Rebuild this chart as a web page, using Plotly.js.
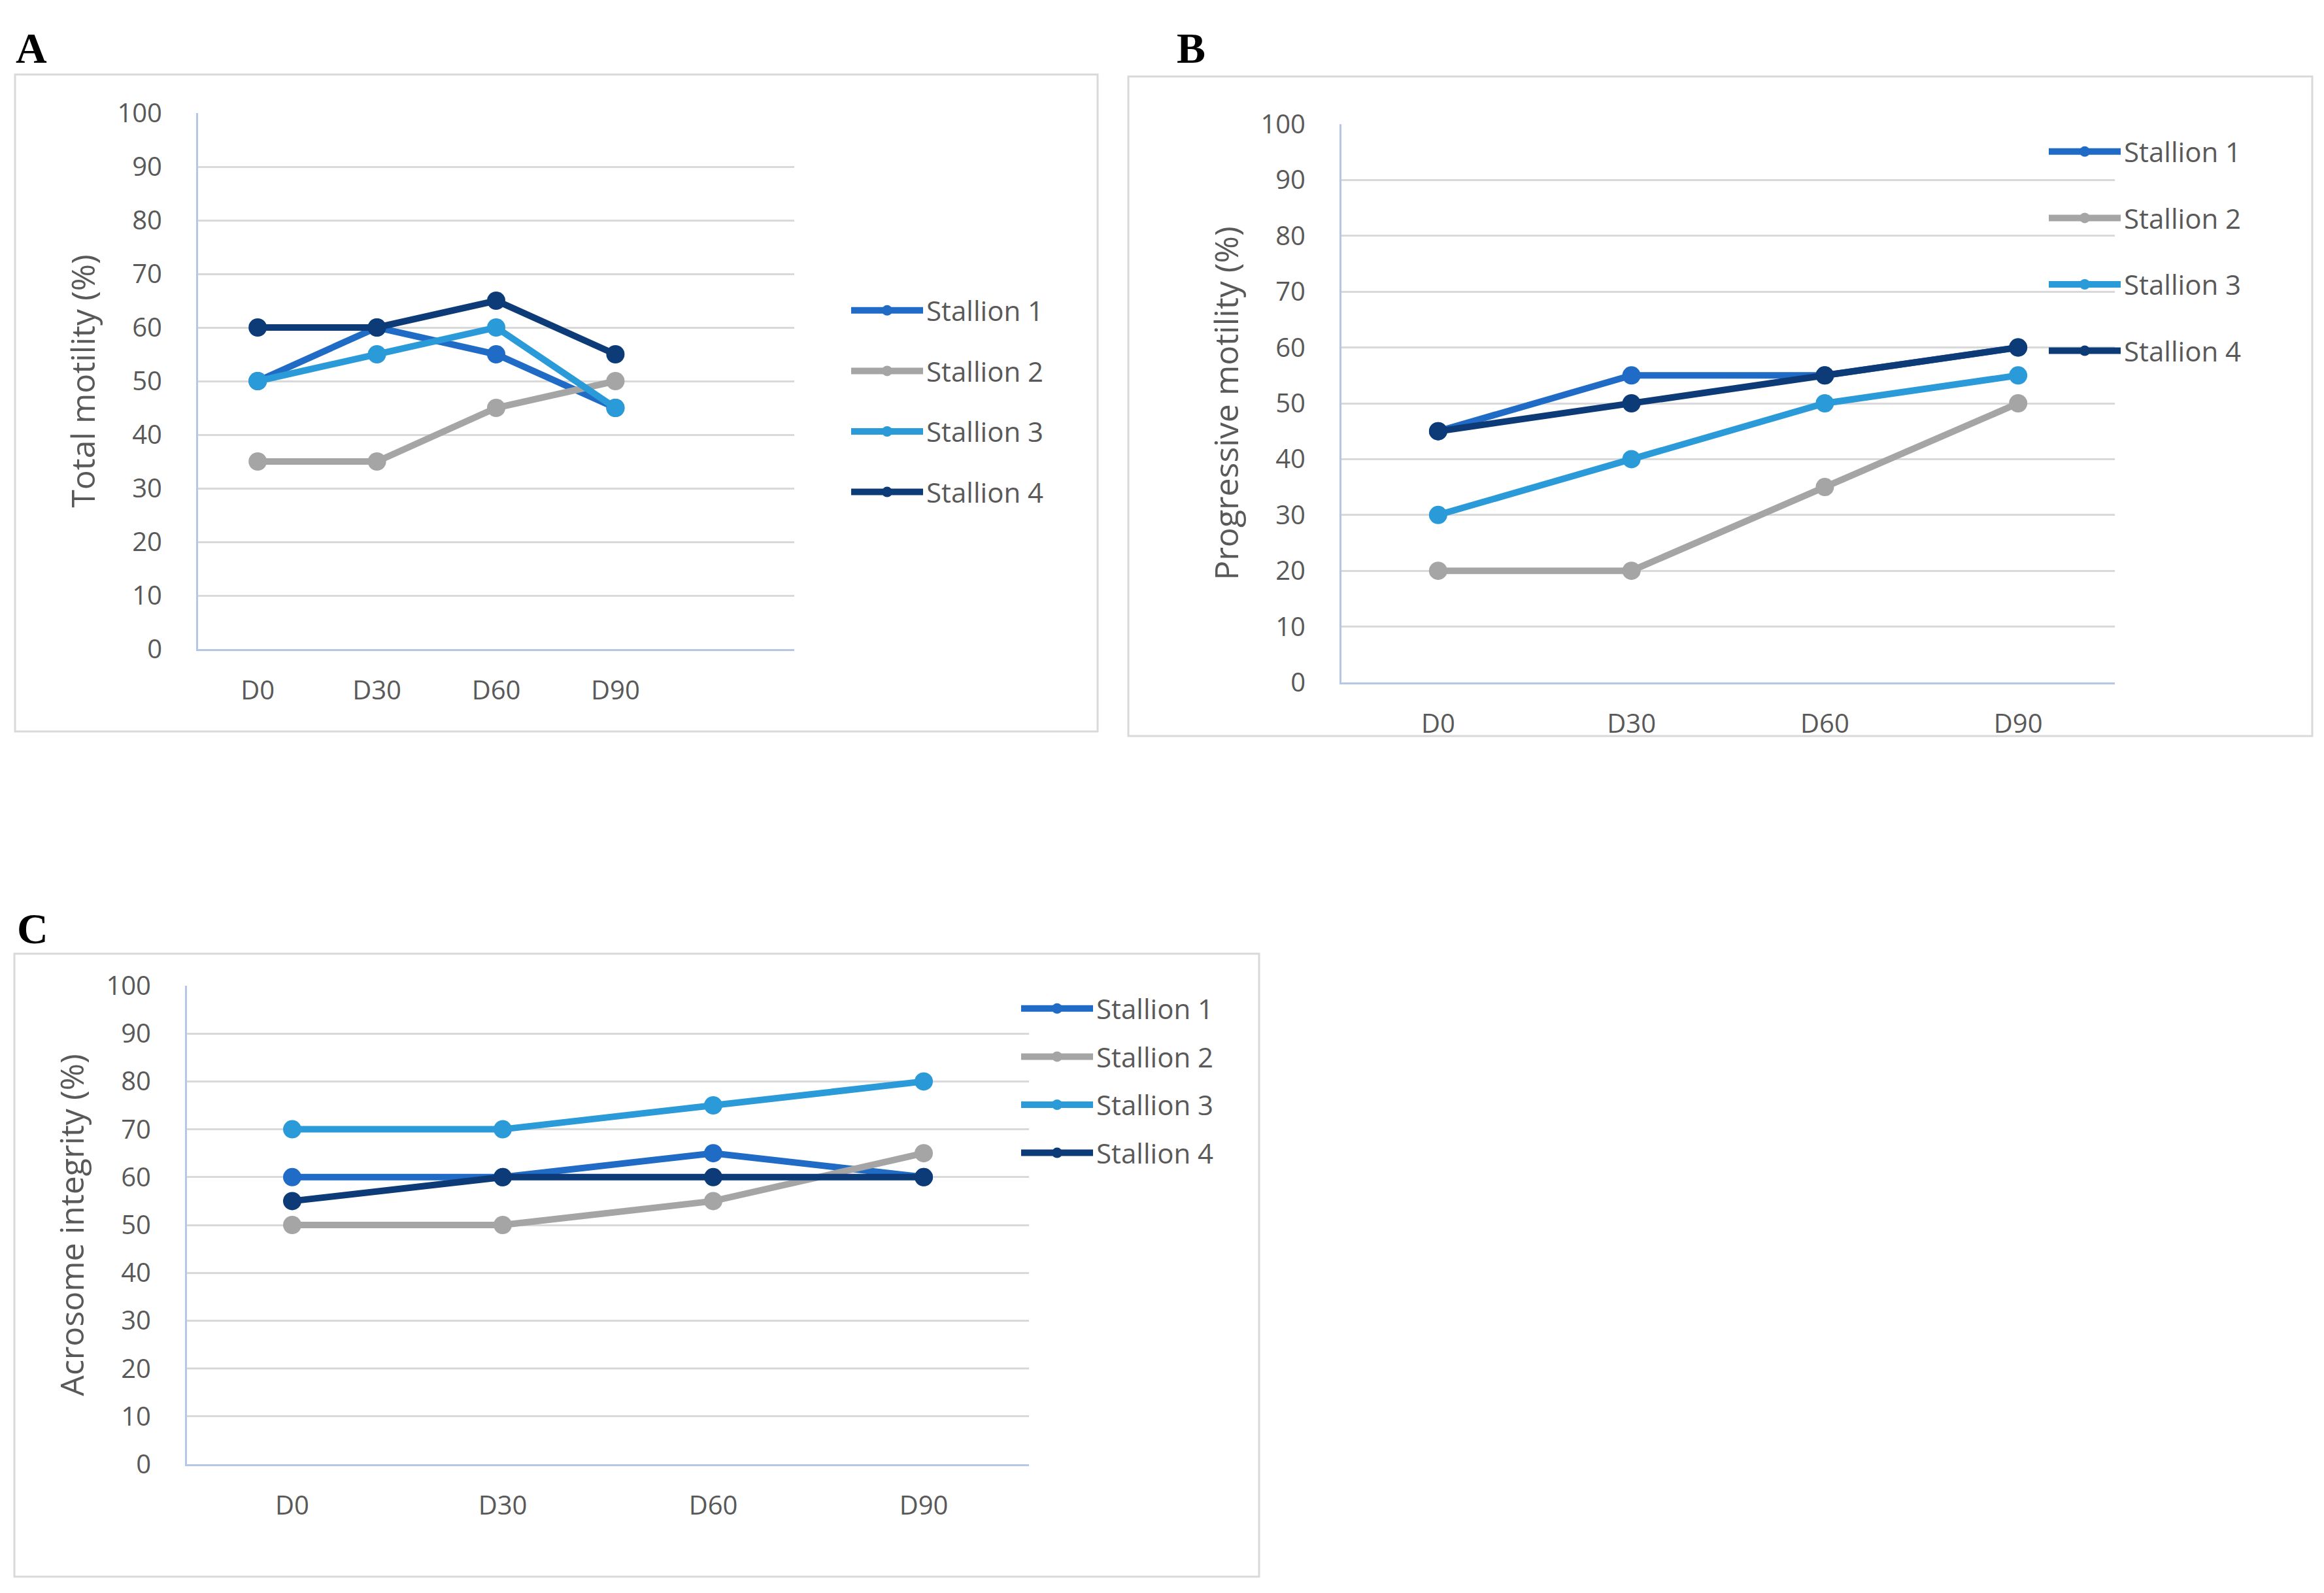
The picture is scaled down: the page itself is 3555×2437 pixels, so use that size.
<!DOCTYPE html>
<html>
<head>
<meta charset="utf-8">
<script src="https://cdn.plot.ly/plotly-3.0.1.min.js"></script>
<style>html,body{margin:0;padding:0;background:#fff}#chart{width:3555px;height:2437px}</style>
</head>
<body>
<div id="chart"></div>
<script>
// ---- data ----
const categories = ["D0", "D30", "D60", "D90"];
const seriesNames = ["Stallion 1", "Stallion 2", "Stallion 3", "Stallion 4"];
const totalMotility = {
  s1: [50, 60, 55, 45],
  s2: [35, 35, 45, 50],
  s3: [50, 55, 60, 45],
  s4: [60, 60, 65, 55]
};
const progressiveMotility = {
  s1: [45, 55, 55, 60],
  s2: [20, 20, 35, 50],
  s3: [30, 40, 50, 55],
  s4: [45, 50, 55, 60]
};
const acrosomeIntegrity = {
  s1: [60, 60, 65, 60],
  s2: [50, 50, 55, 65],
  s3: [70, 70, 75, 80],
  s4: [55, 60, 60, 60]
};
const yTickValues = [0, 10, 20, 30, 40, 50, 60, 70, 80, 90, 100];
const panelLetters = ["A", "B", "C"];
const yTitles = ["Total motility (%)", "Progressive motility (%)", "Acrosome integrity (%)"];

// ---- styling ----
const W = 3555, H = 2437;
const colors = ["#1f6bc6", "#a5a5a5", "#2a9bd8", "#0d3b78"];
const px = v => v / W;
const py = v => 1 - v / H;
const SANS = "'Open Sans', 'DejaVu Sans', sans-serif";
const TXT = "#595959";

const panels = [
  {data: totalMotility, xa: "x", ya: "y", legend: "legend"},
  {data: progressiveMotility, xa: "x2", ya: "y2", legend: "legend2"},
  {data: acrosomeIntegrity, xa: "x3", ya: "y3", legend: "legend3"}
];

const traces = [];
panels.forEach((p, pi) => {
  ["s1", "s2", "s3", "s4"].forEach((k, i) => {
    traces.push({
      type: "scatter", mode: "lines+markers",
      x: categories, y: p.data[k], name: seriesNames[i],
      xaxis: p.xa, yaxis: p.ya, legend: p.legend,
      legendgroup: "p" + pi + k,
      line: {color: colors[i], width: 10},
      marker: {color: colors[i], size: 28},
      cliponaxis: false
    });
  });
});

function xAxis(domain, range, anchor) {
  return {
    domain: domain, anchor: anchor, type: "category", range: range,
    showgrid: false, zeroline: false, showline: true, linecolor: "#b4c7e7", linewidth: 3,
    ticks: "", ticklabelstandoff: 26,
    tickfont: {family: SANS, size: 40, color: TXT}, fixedrange: true
  };
}
function yAxis(domain, anchor, title) {
  return {
    domain: domain, anchor: anchor, range: [0, 100], tickvals: yTickValues,
    showgrid: true, gridcolor: "#d9d9d9", gridwidth: 3,
    zeroline: false, showline: true, linecolor: "#b4c7e7", linewidth: 3,
    ticks: "", ticklabelstandoff: 44,
    tickfont: {family: SANS, size: 40, color: TXT},
    title: {text: title, font: {family: SANS, size: 50, color: TXT}, standoff: 18},
    fixedrange: true
  };
}
function legendBox(xp, yp, gap) {
  return {
    x: px(xp), y: py(yp), xanchor: "left", yanchor: "top",
    xref: "paper", yref: "paper", bgcolor: "rgba(0,0,0,0)",
    font: {family: SANS, size: 42, color: TXT},
    tracegroupgap: gap, itemwidth: 110, traceorder: "grouped"
  };
}
function box(x0, y0, x1, y1) {
  return {type: "rect", xref: "paper", yref: "paper",
    x0: px(x0), x1: px(x1), y0: py(y1), y1: py(y0),
    line: {color: "#d9d9d9", width: 3}, fillcolor: "rgba(0,0,0,0)", layer: "below"};
}
function letter(t, xp, yp) {
  return {text: "<b>" + t + "</b>", x: px(xp), y: py(yp), xref: "paper", yref: "paper",
    xanchor: "left", yanchor: "middle", showarrow: false,
    font: {family: "'Liberation Serif', 'Times New Roman', serif", size: 66, color: "#000"}};
}

const layout = {
  width: W, height: H, margin: {l: 0, r: 0, t: 0, b: 0},
  paper_bgcolor: "#fff", plot_bgcolor: "#fff",
  xaxis: xAxis([px(303), px(1215)], [-0.5, 4.5], "y"),
  yaxis: yAxis([py(993), py(173)], "x", yTitles[0]),
  xaxis2: xAxis([px(2052), px(3235)], [-0.5, 3.5], "y2"),
  yaxis2: yAxis([py(1044), py(190)], "x2", yTitles[1]),
  xaxis3: xAxis([px(286), px(1574)], [-0.5, 3.5], "y3"),
  yaxis3: yAxis([py(2240), py(1508)], "x3", yTitles[2]),
  legend: legendBox(1297, 441, 35),
  legend2: legendBox(3129, 198, 44),
  legend3: legendBox(1557, 1509, 16),
  shapes: [box(23, 114, 1679, 1119), box(1726, 117, 3537, 1126), box(22, 1459, 1926, 2412)],
  annotations: [letter(panelLetters[0], 22, 73), letter(panelLetters[1], 1798, 73), letter(panelLetters[2], 24, 1420)]
};

Plotly.newPlot("chart", traces, layout, {staticPlot: true, displayModeBar: false});
</script>
</body>
</html>
